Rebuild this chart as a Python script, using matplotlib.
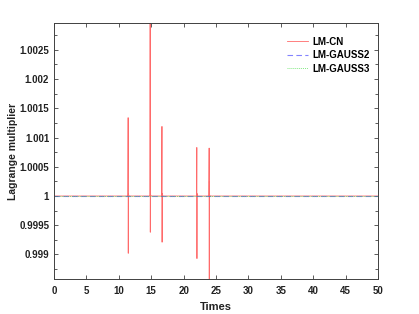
import matplotlib
matplotlib.use("Agg")
import matplotlib.pyplot as plt
from matplotlib.ticker import MultipleLocator, FuncFormatter

# LM-CN series (explicit points around each spike)
t_cn = [0.0, 11.40, 11.44, 11.46, 11.48, 11.50, 11.56, 11.60,
        14.80, 14.84, 14.86, 14.88, 14.90, 14.96, 15.00,
        16.62, 16.66, 16.68, 16.70, 16.72, 16.78, 16.82,
        22.00, 22.04, 22.06, 22.08, 22.10, 22.16, 22.20,
        23.90, 23.94, 23.96, 23.98, 24.00, 24.06, 24.10, 50.0]
v_cn = [1.0, 1.0, 1.00134, 0.99902, 1.00004, 1.00002, 1.00001, 1.0,
        1.0, 1.0035, 0.99938, 1.00006, 1.00002, 1.00001, 1.0,
        1.0, 1.00119, 0.99921, 1.00004, 1.00002, 1.00001, 1.0,
        1.0, 1.00083, 0.99893, 1.00004, 1.00002, 1.00001, 1.0,
        1.0, 1.00082, 0.99840, 1.00025, 1.00002, 1.00001, 1.0, 1.0]

t_g2 = [0.0, 50.0]
v_g2 = [1.0, 1.0]
t_g3 = [0.0, 50.0]
v_g3 = [1.0, 1.0]

plt.rcParams['font.family'] = ['Liberation Sans', 'DejaVu Sans']
plt.rcParams['font.weight'] = 'bold'

fig = plt.figure(figsize=(4.19, 3.14), dpi=100)
ax = fig.add_axes([54/419, 1-279/314, (378-54)/419, (279-23)/314])

ax.plot(t_cn, v_cn, color='#ff5050', lw=0.6, alpha=0.85, label='LM-CN')
ax.plot(t_g2, v_g2, color='#3030ff', lw=0.8, ls=(0, (5, 3)), alpha=0.6, label='LM-GAUSS2')
ax.plot(t_g3, v_g3, color='#50e050', lw=0.7, ls=(0, (1, 1)), alpha=0.7, label='LM-GAUSS3')

ax.set_xlim(0, 50)
ax.set_ylim(0.99858, 1.00296)
ax.xaxis.set_major_locator(MultipleLocator(5))
ax.yaxis.set_major_locator(MultipleLocator(0.0005))
ax.yaxis.set_minor_locator(MultipleLocator(0.00025))

def yfmt(v, pos):
    s = f"{v:.4f}".rstrip('0').rstrip('.')
    return s
ax.yaxis.set_major_formatter(FuncFormatter(yfmt))

gray = '#404040'
for sp in ax.spines.values():
    sp.set_color(gray)
    sp.set_linewidth(0.7)
ax.tick_params(which='both', direction='in', top=True, right=True, colors=gray,
               labelcolor='#222222', labelsize=7, width=0.6)
ax.tick_params(which='major', length=3)
ax.tick_params(which='minor', length=2)
ax.tick_params(axis='x', which='major', pad=5)
for lbl in ax.get_xticklabels() + ax.get_yticklabels():
    lbl.set_fontweight('bold')

ax.set_xlabel('Times', fontsize=8, fontweight='bold', color='#222222', labelpad=4)
ax.set_ylabel('Lagrange multiplier', fontsize=7.5, fontweight='bold', color='#222222', labelpad=1)

leg = ax.legend(loc='upper right', frameon=False, fontsize=7, handlelength=2.1,
                handletextpad=0.45, bbox_to_anchor=(1.0, 0.98), labelspacing=0.35)
for tx in leg.get_texts():
    tx.set_fontweight('bold')

fig.savefig('out.png', dpi=100)
